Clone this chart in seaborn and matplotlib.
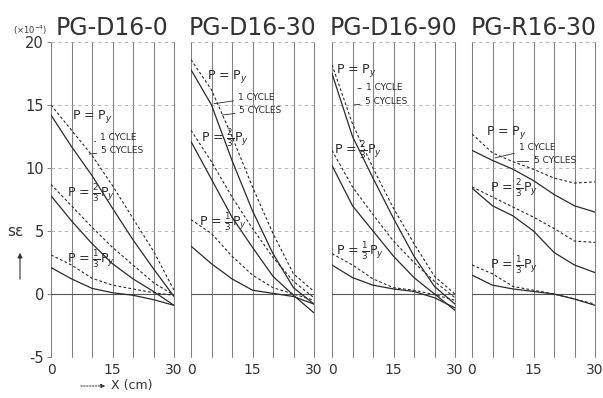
import matplotlib
matplotlib.use("Agg")
import matplotlib.pyplot as plt
import seaborn as sns
import pandas as pd

sns.set_theme(style="white")
plt.rcParams['font.family'] = ['DejaVu Sans']

# ---------------- data ----------------
x_cm = [0, 5, 10, 15, 20, 25, 30]
titles = ["PG-D16-0", "PG-D16-30", "PG-D16-90", "PG-R16-30"]

# PG-D16-0
d0_py_1 = [14.2, 11.7, 9.4, 6.8, 4.3, 2.0, -0.2]
d0_py_5 = [15.0, 13.0, 11.0, 8.6, 6.0, 3.4, 0.3]
d0_p23_1 = [7.8, 5.8, 4.0, 2.4, 1.2, 0.2, -0.9]
d0_p23_5 = [8.7, 7.0, 5.3, 3.7, 2.3, 0.9, -0.1]
d0_p13_1 = [2.1, 1.2, 0.45, 0.1, -0.1, -0.45, -0.9]
d0_p13_5 = [3.1, 2.3, 1.25, 0.7, 0.4, 0.1, -0.1]
# PG-D16-30
d30_py_1 = [17.8, 15.0, 10.6, 6.6, 3.2, 0.5, -0.8]
d30_py_5 = [18.6, 16.2, 12.5, 8.5, 4.8, 1.6, 0.2]
d30_p23_1 = [12.1, 9.1, 6.1, 3.7, 1.4, -0.1, -1.5]
d30_p23_5 = [13.0, 10.5, 7.7, 5.2, 2.9, 1.0, -0.3]
d30_p13_1 = [3.8, 2.4, 1.2, 0.3, 0.05, -0.2, -0.8]
d30_p13_5 = [5.9, 4.8, 3.0, 1.5, 0.5, 0.0, -0.5]
# PG-D16-90
d90_py_1 = [17.5, 12.5, 9.2, 6.0, 3.0, 0.6, -0.8]
d90_py_5 = [18.2, 13.5, 10.0, 6.8, 4.0, 1.4, 0.0]
d90_p23_1 = [10.2, 7.0, 5.0, 3.0, 1.3, 0.0, -1.3]
d90_p23_5 = [11.4, 8.5, 6.3, 4.2, 2.5, 1.0, -0.3]
d90_p13_1 = [2.3, 1.3, 0.7, 0.4, 0.2, -0.3, -1.1]
d90_p13_5 = [3.2, 2.3, 1.2, 0.5, 0.3, -0.05, -0.5]
# PG-R16-30
r30_py_1 = [11.4, 10.6, 9.9, 9.0, 7.9, 7.0, 6.5]
r30_py_5 = [12.7, 11.2, 10.5, 9.9, 9.2, 8.8, 8.9]
r30_p23_1 = [8.4, 7.0, 6.2, 5.0, 3.3, 2.3, 1.7]
r30_p23_5 = [8.5, 7.7, 6.9, 6.1, 5.2, 4.2, 4.1]
r30_p13_1 = [1.5, 0.7, 0.4, 0.2, 0.0, -0.4, -0.9]
r30_p13_5 = [2.3, 1.6, 0.6, 0.3, 0.0, -0.4, -0.8]

panel_series = [
    [d0_py_1, d0_py_5, d0_p23_1, d0_p23_5, d0_p13_1, d0_p13_5],
    [d30_py_1, d30_py_5, d30_p23_1, d30_p23_5, d30_p13_1, d30_p13_5],
    [d90_py_1, d90_py_5, d90_p23_1, d90_p23_5, d90_p13_1, d90_p13_5],
    [r30_py_1, r30_py_5, r30_p23_1, r30_p23_5, r30_p13_1, r30_p13_5],
]
cycles = ["1", "5", "1", "5", "1", "5"]

y_ticks = [-5, 0, 5, 10, 15, 20]
x_ticks = [0, 15, 30]

# label placements (data coords)
lab_py = [(5.0, 14.1), (4.0, 17.3), (1.0, 17.7), (3.5, 12.8)]
lab_23 = [(4.0, 8.0), (2.5, 12.4), (0.5, 11.4), (4.5, 8.4)]
lab_13 = [(4.0, 2.8), (2.0, 5.7), (1.0, 3.4), (4.5, 2.3)]
lab_c1 = [(12.0, 12.4), (11.5, 15.6), (8.3, 16.4), (11.5, 11.6)]
lab_c5 = [(12.3, 11.4), (11.8, 14.6), (8.0, 15.3), (15.0, 10.6)]
pt_c1 = [(10.6, 12.1), (5.6, 15.1), (6.3, 16.3), (5.6, 10.8)]
pt_c5 = [(9.3, 11.1), (7.6, 14.2), (5.3, 15.0), (11.0, 10.5)]

# ---------------- figure ----------------
W, H = 603, 398
fig = plt.figure(figsize=(W / 100, H / 100), dpi=100)
fig.patch.set_facecolor("white")

lefts_px = [51, 191, 332, 472]
w_px = 123
top_px, bot_px = 42, 357
ink = "#2b2b2b"
grid = "#808080"

for i, left in enumerate(lefts_px):
    ax = fig.add_axes([left / W, 1 - bot_px / H, w_px / W, (bot_px - top_px) / H])
    ax.set_facecolor("white")
    for s in ax.spines.values():
        s.set_visible(False)
    ax.set_xlim(0, 30)
    ax.set_ylim(-5, 20)
    for xv in range(0, 31, 5):
        ax.axvline(xv, color=grid, lw=0.75, clip_on=False, zorder=1)
    ax.axhline(0, color="#555555", lw=0.8, zorder=1)
    for yv in [5, 10, 15, 20]:
        ax.axhline(yv, color="#aaaaaa", lw=0.6, ls=(0, (4, 4)), zorder=1, clip_on=False)

    for s, cyc in zip(panel_series[i], cycles):
        df = pd.DataFrame({"x": x_cm, "e": s})
        if cyc == "1":
            sns.lineplot(data=df, x="x", y="e", ax=ax, color=ink, lw=0.9, zorder=3)
        else:
            sns.lineplot(data=df, x="x", y="e", ax=ax, color=ink, lw=0.8,
                         linestyle=(0, (2.5, 2)), zorder=3)

    ax.set_xlabel("")
    ax.set_ylabel("")
    ax.set_xticks(x_ticks)
    ax.set_xticklabels([str(t) for t in x_ticks], fontsize=10, color="#333333")
    ax.tick_params(axis="x", length=0, pad=4)
    if i == 0:
        ax.set_yticks(y_ticks)
        ax.set_yticklabels([str(t) for t in y_ticks], fontsize=10.5, color="#333333")
        ax.tick_params(axis="y", length=3, width=0.7, color=grid, pad=2, left=True)
    else:
        ax.set_yticks([])
    ax.grid(False)

    ax.set_title(titles[i], fontsize=17, color="#333333", pad=5)

    fs = 9
    ax.text(*lab_py[i], r"P = P$_y$", fontsize=fs, color=ink, va="center", zorder=5)
    ax.text(*lab_23[i], r"P = $\frac{2}{3}$P$_y$", fontsize=fs, color=ink, va="center", zorder=5)
    ax.text(*lab_13[i], r"P = $\frac{1}{3}$P$_y$", fontsize=fs, color=ink, va="center", zorder=5)
    ax.annotate("1 CYCLE", xy=pt_c1[i], xytext=lab_c1[i], fontsize=6.5, color=ink,
                va="center", arrowprops=dict(arrowstyle="-", lw=0.6, color=ink,
                                             shrinkA=1, shrinkB=0))
    ax.annotate("5 CYCLES", xy=pt_c5[i], xytext=lab_c5[i], fontsize=6.5, color=ink,
                va="center", arrowprops=dict(arrowstyle="-", lw=0.6, color=ink,
                                             shrinkA=1, shrinkB=0))

# extra annotations
fig.text(13 / W, 1 - 30 / H, r"$(\times10^{-4})$", fontsize=6, color="#333333",
         va="center", ha="left")
fig.text(7 / W, 1 - 232 / H, "sε", fontsize=11, color="#333333",
         va="center", ha="left")
fig.add_artist(matplotlib.patches.FancyArrowPatch(
    (20 / W, 1 - 282 / H), (20 / W, 1 - 250 / H), transform=fig.transFigure,
    arrowstyle="-|>", mutation_scale=7, lw=0.8, color="#333333"))
fig.add_artist(matplotlib.patches.FancyArrowPatch(
    (78 / W, 1 - 386 / H), (108 / W, 1 - 386 / H), transform=fig.transFigure,
    arrowstyle="-|>", mutation_scale=6, lw=0.7, ls=(0, (1.5, 1.5)), color="#333333"))
fig.text(111 / W, 1 - 386 / H, "X (cm)", fontsize=9, color="#333333", va="center", ha="left")

fig.savefig("out.png", dpi=100, facecolor="white")
